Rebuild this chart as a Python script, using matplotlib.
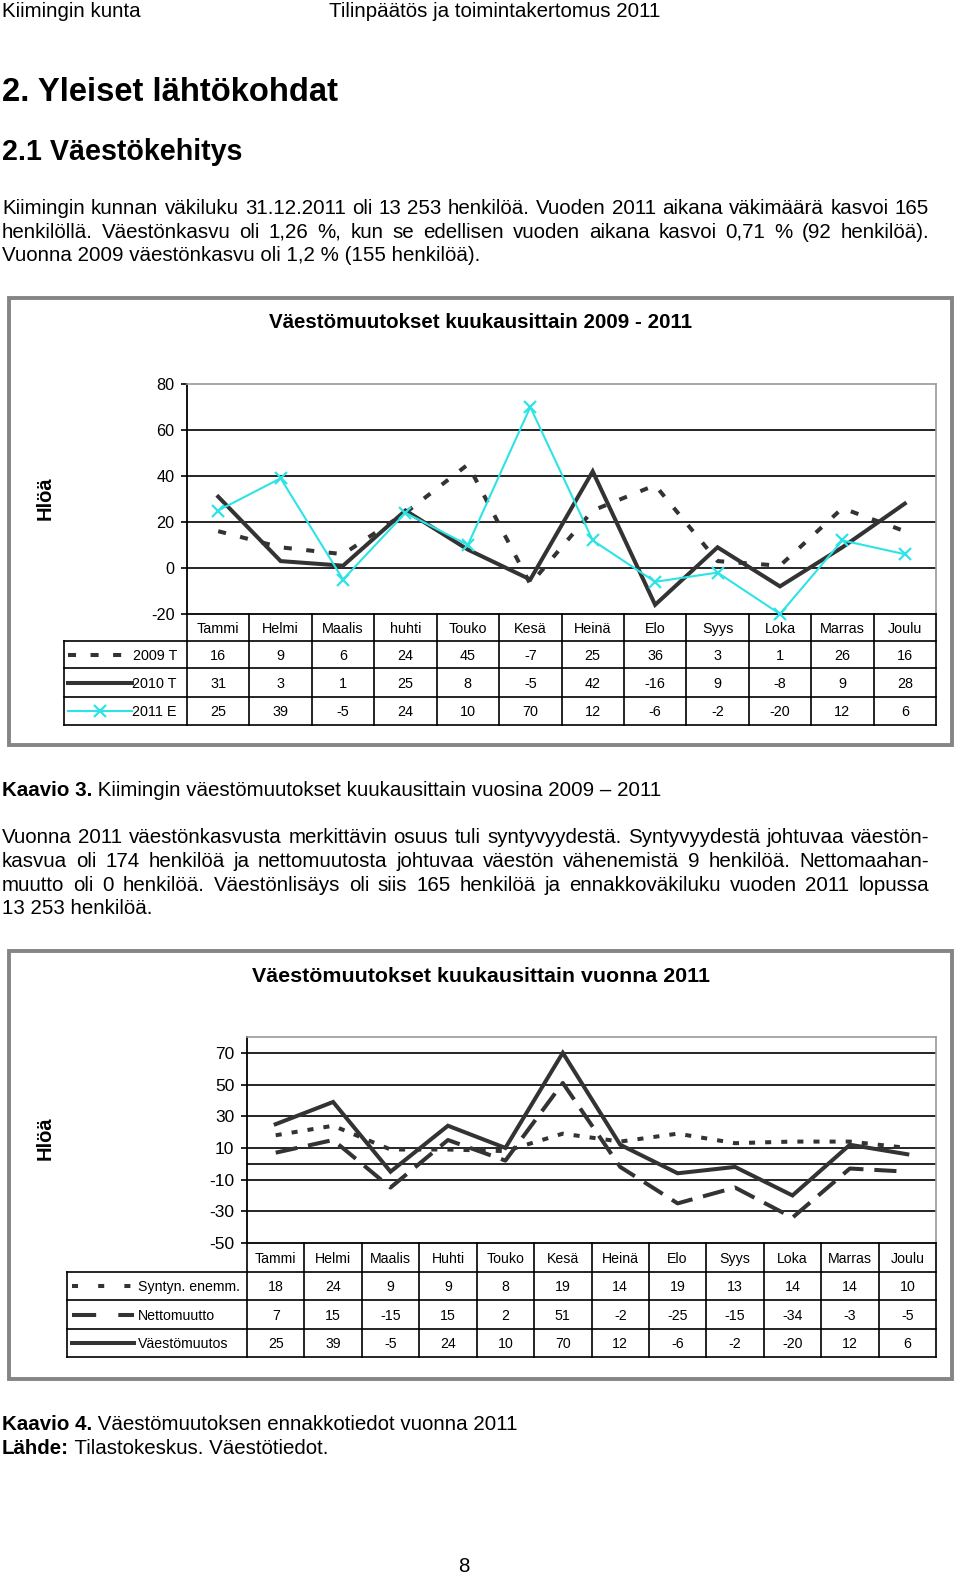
import matplotlib
matplotlib.use('Agg')
import matplotlib.pyplot as plt
from matplotlib.patches import Rectangle

# =============================================================================
# Data
# =============================================================================

months_1 = ['Tammi', 'Helmi', 'Maalis', 'huhti', 'Touko', 'Kesä',
            'Heinä', 'Elo', 'Syys', 'Loka', 'Marras', 'Joulu']
y2009 = [16, 9, 6, 24, 45, -7, 25, 36, 3, 1, 26, 16]
y2010 = [31, 3, 1, 25, 8, -5, 42, -16, 9, -8, 9, 28]
y2011 = [25, 39, -5, 24, 10, 70, 12, -6, -2, -20, 12, 6]
names_1 = ['2009 T', '2010 T', '2011 E']

months_2 = ['Tammi', 'Helmi', 'Maalis', 'Huhti', 'Touko', 'Kesä',
            'Heinä', 'Elo', 'Syys', 'Loka', 'Marras', 'Joulu']
births = [18, 24, 9, 9, 8, 19, 14, 19, 13, 14, 14, 10]
net_migration = [7, 15, -15, 15, 2, 51, -2, -25, -15, -34, -3, -5]
total_change = [25, 39, -5, 24, 10, 70, 12, -6, -2, -20, 12, 6]
names_2 = ['Syntyn. enemm.', 'Nettomuutto', 'Väestömuutos']

# =============================================================================
# Page setup (page axes works in pixels, y downward)
# =============================================================================

W, H = 960, 1574
SANS = ['Liberation Sans', 'DejaVu Sans']
plt.rcParams['font.family'] = SANS
plt.rcParams['axes.unicode_minus'] = False

fig = plt.figure(figsize=(W / 100, H / 100), dpi=100)
page = fig.add_axes([0, 0, 1, 1])
page.set_xlim(0, W)
page.set_ylim(H, 0)
page.axis('off')
renderer = fig.canvas.get_renderer()

BODY = 14.8
DARK = '#333333'
CYAN = '#2EE3E6'


def width_of(t):
    return t.get_window_extent(renderer).width


def rich(x, y, parts, size=BODY):
    for txt, wt in parts:
        t = page.text(x, y, txt, fontsize=size, fontweight=wt, va='baseline')
        x += width_of(t)


def justify(y, line, x0=2, x1=929, size=BODY):
    words = line.split(' ')
    objs = [page.text(0, y, w, fontsize=size, va='baseline') for w in words]
    widths = [width_of(o) for o in objs]
    gap = (x1 - x0 - sum(widths)) / (len(words) - 1)
    x = x0
    for o, w in zip(objs, widths):
        o.set_x(x)
        x += w + gap


def plot_axes(x0, y0, x1, y1):
    return fig.add_axes([x0 / W, 1 - y1 / H, (x1 - x0) / W, (y1 - y0) / H])


def style_axes(ax, ylim, yticks, grid, n, ticksize):
    ax.set_xlim(-0.5, n - 0.5)
    ax.set_ylim(*ylim)
    ax.set_xticks([])
    ax.set_yticks(yticks)
    ax.patch.set_alpha(0)
    for g in grid:
        ax.axhline(g, color='black', lw=1.2, zorder=1)
    ax.spines['left'].set_color('black')
    ax.spines['left'].set_linewidth(1.3)
    ax.spines['bottom'].set_color('black')
    ax.spines['bottom'].set_linewidth(1.3)
    for s in ['top', 'right']:
        ax.spines[s].set_color('#9a9a9a')
        ax.spines[s].set_linewidth(1.2)
    ax.tick_params(axis='y', direction='out', length=4, width=1.2,
                   labelsize=ticksize, pad=5)


def draw_table(x_left, x0, x1, y_top, y_rows, months, values, names,
               styles, key_x, label_x, label_ha, size):
    n = len(months)
    edges = [x0 + i * (x1 - x0) / n for i in range(n + 1)]
    cx = [(edges[i] + edges[i + 1]) / 2 for i in range(n)]
    half_cap = size * 100 / 72 * 0.716 / 2
    for e in edges:
        page.plot([e, e], [y_top, y_rows[-1]], color='black', lw=1.2)
    page.plot([x_left, x_left], [y_rows[0], y_rows[-1]], color='black', lw=1.2)
    for yy in y_rows:
        page.plot([x_left, x1], [yy, yy], color='black', lw=1.2)
    for c, m in zip(cx, months):
        page.text(c, (y_top + y_rows[0]) / 2 + half_cap, m, ha='center',
                  va='baseline', fontsize=size)
    for r, (vals, name, st) in enumerate(zip(values, names, styles)):
        yc = (y_rows[r] + y_rows[r + 1]) / 2
        for c, v in zip(cx, vals):
            page.text(c, yc + half_cap, str(v), ha='center', va='baseline',
                      fontsize=size)
        page.text(label_x, yc + half_cap, name, ha=label_ha, va='baseline',
                  fontsize=size)
        kx = [key_x[0], (key_x[0] + key_x[1]) / 2, key_x[1]]
        page.plot(kx, [yc] * 3, **st)


# =============================================================================
# Page text
# =============================================================================

page.text(2, 17, 'Kiimingin kunta', fontsize=BODY, va='baseline')
page.text(329, 17, 'Tilinpäätös ja toimintakertomus 2011', fontsize=BODY,
          va='baseline')
page.text(2, 101, '2. Yleiset lähtökohdat', fontsize=23.6, fontweight='bold',
          va='baseline')
page.text(2, 160, '2.1 Väestökehitys', fontsize=20.6, fontweight='bold',
          va='baseline')

justify(214, 'Kiimingin kunnan väkiluku 31.12.2011 oli 13 253 henkilöä. '
             'Vuoden 2011 aikana väkimäärä kasvoi 165')
justify(238, 'henkilöllä. Väestönkasvu oli 1,26 %, kun se edellisen vuoden '
             'aikana kasvoi 0,71 % (92 henkilöä).')
page.text(2, 261, 'Vuonna 2009 väestönkasvu oli 1,2 % (155 henkilöä).',
          fontsize=BODY, va='baseline')

rich(2, 796, [('Kaavio 3.', 'bold'),
              (' Kiimingin väestömuutokset kuukausittain vuosina 2009 – 2011',
               'normal')])

justify(843, 'Vuonna 2011 väestönkasvusta merkittävin osuus tuli syntyvyydestä. '
             'Syntyvyydestä johtuvaa väestön-')
justify(867, 'kasvua oli 174 henkilöä ja nettomuutosta johtuvaa väestön '
             'vähenemistä 9 henkilöä. Nettomaahan-')
justify(891, 'muutto oli 0 henkilöä. Väestönlisäys oli siis 165 henkilöä ja '
             'ennakkoväkiluku vuoden 2011 lopussa')
page.text(2, 914, '13 253 henkilöä.', fontsize=BODY, va='baseline')

rich(2, 1430, [('Kaavio 4.', 'bold'),
               (' Väestömuutoksen ennakkotiedot vuonna 2011', 'normal')])
rich(2, 1454, [('Lähde:', 'bold'), (' Tilastokeskus. Väestötiedot.', 'normal')])
page.text(464, 1572, '8', fontsize=BODY, ha='center', va='baseline')

# =============================================================================
# Chart 1: Väestömuutokset kuukausittain 2009 - 2011
# =============================================================================

page.add_patch(Rectangle((9, 298), 943, 447, fill=False,
                         edgecolor='#858585', lw=2.8))
page.text(481, 323, 'Väestömuutokset kuukausittain 2009 - 2011',
          fontsize=14.8, fontweight='bold', ha='center', va='center')
page.text(45, 498, 'Hlöä', rotation=90, fontsize=14.5, fontweight='bold',
          ha='center', va='center')

ax1 = plot_axes(187, 384, 936, 614)
style_axes(ax1, (-20, 80), range(-20, 81, 20), [0, 20, 40, 60], 12, 11.7)
x = range(len(months_1))
st_2009 = dict(color=DARK, lw=2.9, dashes=(2, 3.6), solid_capstyle='butt')
st_2010 = dict(color=DARK, lw=2.9, solid_joinstyle='miter')
st_2011 = dict(color=CYAN, lw=1.5, marker='x', ms=9, mew=1.6)
ax1.plot(x, y2009, clip_on=False, zorder=3, **st_2009)
ax1.plot(x, y2010, clip_on=False, zorder=4, **st_2010)
ax1.plot(x, y2011, clip_on=False, zorder=5, **st_2011)

draw_table(64, 187, 936, 614, [641, 668, 697, 725], months_1,
           [y2009, y2010, y2011], names_1,
           [st_2009, st_2010, dict(st_2011, markevery=[1])],
           (68, 132), 177, 'right', 10.4)

# =============================================================================
# Chart 2: Väestömuutokset kuukausittain vuonna 2011
# =============================================================================

page.add_patch(Rectangle((9, 951), 943, 428, fill=False,
                         edgecolor='#858585', lw=2.8))
page.text(481, 977, 'Väestömuutokset kuukausittain vuonna 2011',
          fontsize=15.4, fontweight='bold', ha='center', va='center')
page.text(45, 1138, 'Hlöä', rotation=90, fontsize=14.5, fontweight='bold',
          ha='center', va='center')

ax2 = plot_axes(247, 1037, 936, 1243)
style_axes(ax2, (-50, 80), range(-50, 71, 20), [70, 50, 30, 10, 0, -10, -30],
           12, 12.5)
x = range(len(months_2))
st_births = dict(color=DARK, lw=2.9, dashes=(1.5, 2.5))
st_net = dict(color=DARK, lw=2.9, dashes=(5.5, 2.7))
st_total = dict(color=DARK, lw=2.9, solid_joinstyle='miter')
ax2.plot(x, births, clip_on=False, zorder=3, **st_births)
ax2.plot(x, net_migration, clip_on=False, zorder=4, **st_net)
ax2.plot(x, total_change, clip_on=False, zorder=5, **st_total)

draw_table(67, 247, 936, 1243, [1272, 1300, 1329, 1357], months_2,
           [births, net_migration, total_change], names_2,
           [dict(st_births, dashes=(1.5, 5)), dict(st_net, dashes=(6, 5.5)),
            st_total],
           (72, 134), 138, 'left', 10.2)

fig.savefig('out.png', dpi=100)
